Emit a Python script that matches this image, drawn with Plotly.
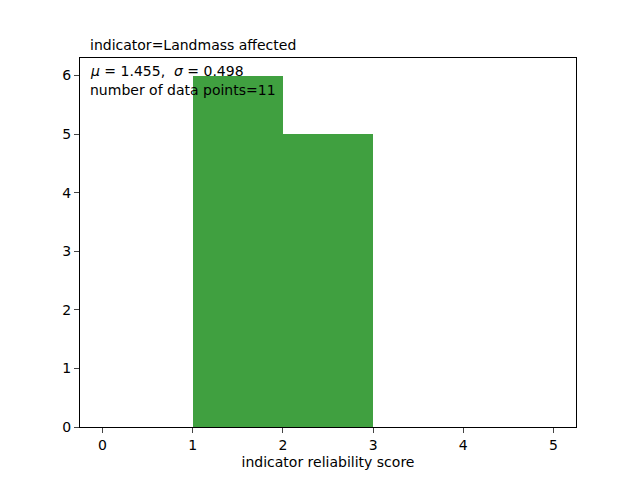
import plotly.graph_objects as go

scores = [1, 1, 1, 1, 1, 1, 2, 2, 2, 2, 2]
title_text = "indicator=Landmass affected"
stats_text = "<i>μ</i> = 1.455,  <i>σ</i> = 0.498"
count_text = "number of data points=11"
x_label = "indicator reliability score"
x_ticks = [0, 1, 2, 3, 4, 5]
y_ticks = [0, 1, 2, 3, 4, 5, 6]

fig = go.Figure()
fig.add_trace(go.Histogram(
    x=scores,
    xbins=dict(start=0, end=5, size=1),
    marker=dict(color="rgba(0,128,0,0.75)", line=dict(width=0)),
    showlegend=False,
))

font = dict(family="DejaVu Sans", size=14, color="black")
fig.update_layout(
    width=640, height=480,
    margin=dict(l=80, r=64, t=58, b=53),
    paper_bgcolor="white", plot_bgcolor="white",
    font=font,
    bargap=0,
    xaxis=dict(range=[-0.25, 5.25], tickvals=x_ticks, ticks="outside", ticklen=5,
               showline=True, linecolor="black", linewidth=1, mirror=True,
               showgrid=False, zeroline=False, tickfont=font,
               title=dict(text=x_label, font=font, standoff=5)),
    yaxis=dict(range=[0, 6.3], tickvals=y_ticks, ticks="outside", ticklen=5,
               showline=True, linecolor="black", linewidth=1, mirror=True,
               showgrid=False, zeroline=False, tickfont=font),
    annotations=[
        dict(text=title_text, xref="paper", yref="paper", x=0.02, y=1.0, yshift=3, xshift=-2,
             xanchor="left", yanchor="bottom", showarrow=False, font=font),
        dict(text=stats_text, xref="paper", yref="paper", x=0.02, y=0.993, xshift=-2,
             xanchor="left", yanchor="top", showarrow=False, font=font),
        dict(text=count_text, xref="paper", yref="paper", x=0.02, y=0.94, xshift=-2,
             xanchor="left", yanchor="top", showarrow=False, font=font),
    ],
)
fig.write_html("out.html", config={"displayModeBar": False},
               post_script="document.body.style.margin='0';document.body.style.overflow='hidden';")
